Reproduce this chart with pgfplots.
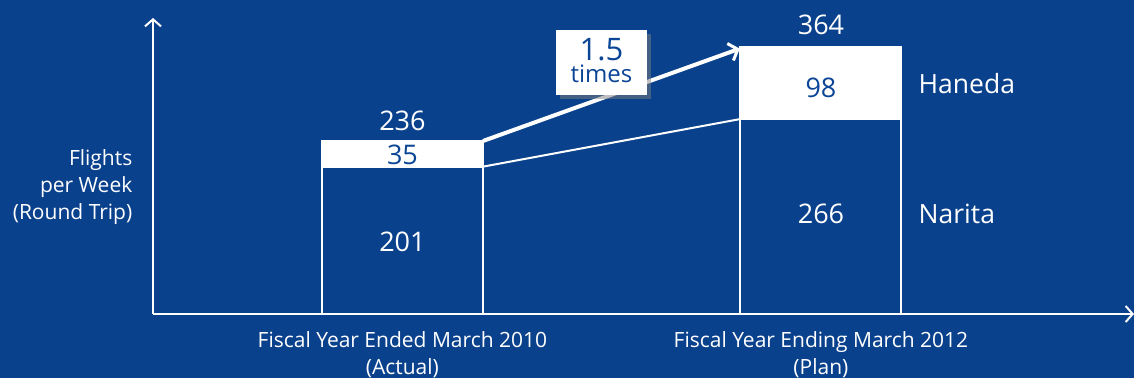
\documentclass[border=0pt]{standalone}
\usepackage{pgfplots}
\pgfplotsset{compat=1.18}
\usepackage{fontspec}
\setmainfont{Open Sans}
\usetikzlibrary{arrows.meta,shadows}
\definecolor{bg}{HTML}{0A418C}
\definecolor{tb}{HTML}{0B4596}
\tikzset{vl/.style={font=\fontsize{27}{30}\selectfont}}
\begin{document}
\begin{tikzpicture}[x=1pt,y=1pt]
\fill[bg] (0,0) rectangle (1134,378);
\begin{axis}[
  at={(153pt,64pt)}, anchor=south west,
  scale only axis, width=981pt, height=296pt,
  xmin=-0.596, xmax=1.748, ymin=0, ymax=403.8,
  axis lines=left,
  axis line style={white, line width=2.5pt},
  x axis line style={-{Straight Barb[length=7pt,width=16pt,line width=2pt]}},
  y axis line style={-{Straight Barb[length=7pt,width=16pt,line width=2pt]}},
  ytick=\empty,
  xtick={0,1},
  xticklabels={{Fiscal Year Ended March 2010\\(Actual)},{Fiscal Year Ending March 2012\\(Plan)}},
  major tick length=0pt,
  xticklabel style={align=center, text=white, font=\fontsize{21}{27}\selectfont, yshift=-14pt},
  ybar stacked, bar width=161pt,
  clip=false,
]
\addplot[fill=bg, draw=white, line width=2pt] coordinates {(0,201) (1,266)};
\addplot[fill=white, draw=white, line width=2pt] coordinates {(0,35) (1,98)};
\coordinate (n1) at (axis cs:0.1924,201);
\coordinate (n2) at (axis cs:0.8076,266);
\coordinate (t1) at (axis cs:0.1924,236);
\coordinate (t2) at (axis cs:0.806,362);
\coordinate (l236) at (axis cs:0,263);
\coordinate (l35) at (axis cs:0,217);
\coordinate (l201) at (axis cs:0,99);
\coordinate (l364) at (axis cs:1,395);
\coordinate (l98) at (axis cs:1,308);
\coordinate (l266) at (axis cs:1,136);
\coordinate (hn) at (axis cs:1.225,314);
\coordinate (nr) at (axis cs:1.225,136);
\coordinate (bx) at (axis cs:0.4755,343);
\coordinate (yl) at (axis cs:-0.637,173);
\end{axis}
\draw[white, line width=2pt] (n1) -- (n2);
\draw[white, line width=4pt, -{Straight Barb[length=8pt,width=18pt,line width=3pt]}] (t1) -- (t2);
\node[vl, text=white] at (l236) {236};
\node[vl, text=tb] at (l35) {35};
\node[vl, text=white] at (l201) {201};
\node[vl, text=white] at (l364) {364};
\node[vl, text=tb] at (l98) {98};
\node[vl, text=white] at (l266) {266};
\node[text=white, anchor=west, font=\fontsize{26.5}{28}\selectfont] at (hn) {Haneda};
\node[text=white, anchor=west, font=\fontsize{26.5}{28}\selectfont] at (nr) {Narita};
\node[fill=white, drop shadow={opacity=0.5, shadow xshift=4pt, shadow yshift=-4pt}, minimum width=91pt, minimum height=65pt, inner sep=0pt] at (bx) {};
\node[text=tb, font=\fontsize{31}{31}\selectfont, inner sep=0pt, anchor=base] at ([yshift=2pt]bx) {1.5};
\node[text=tb, font=\fontsize{24}{24}\selectfont, inner sep=0pt, anchor=base] at ([yshift=-20pt]bx) {times};
\node[text=white, anchor=east, align=right, font=\fontsize{21}{27}\selectfont] at (yl) {Flights\\per Week\\(Round Trip)};
\pgfresetboundingbox
\useasboundingbox (0,0) rectangle (1134,378);
\end{tikzpicture}
\end{document}
